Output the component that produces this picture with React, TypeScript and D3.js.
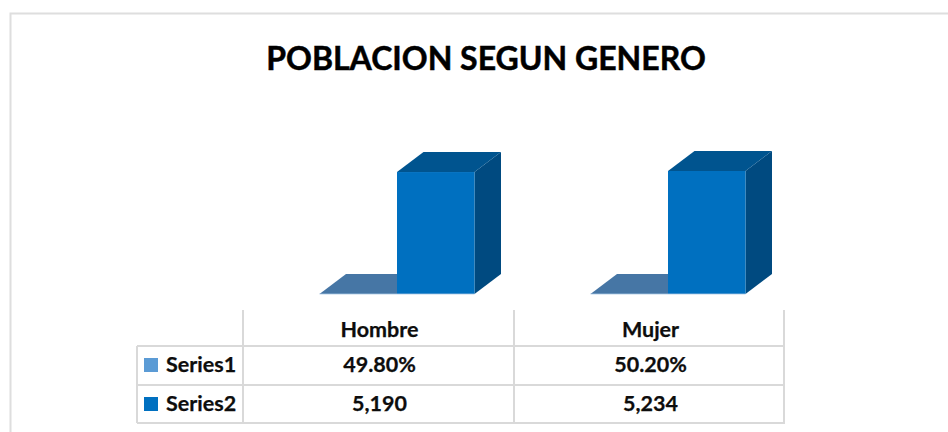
import React from "react";
import * as d3 from "d3";

const categories = ["Hombre", "Mujer"];
const seriesNames = ["Series1", "Series2"];
const series1Values = [0.498, 0.502];
const series2Values = [5190, 5234];
const series1Labels = ["49.80%", "50.20%"];
const series2Labels = ["5,190", "5,234"];
const titleText = "POBLACION SEGUN GENERO";

const W = 948, H = 432;
const FONT = "Lato, Carlito, Calibri, sans-serif";
const tableLeft = 137, colLeft = 243, colRight = 785, tableRight = 784;
const rowYs = [346, 385, 423];
const tableTop = 310;
const depthX = 26.5, depthY = 20;

const x = d3.scaleBand<string>().domain(categories).range([colLeft, colRight]).padding(0);
const yScale = d3.scaleLinear().domain([0, 6000]).range([294, 153]);
const barW = 77.5;
const groupOffset = 18.5;

function Bar3D({ x0, value, front, top, side }: { x0: number; value: number; front: string; top: string; side: string }) {
  const y0 = yScale(0);
  const y1 = yScale(value);
  const x1 = x0 + barW;
  const poly = (pts: number[][]) => pts.map((p) => p.join(",")).join(" ");
  return (
    <g>
      <polygon points={poly([[x1, y1], [x1 + depthX, y1 - depthY], [x1 + depthX, y0 - depthY], [x1, y0]])} fill={side} />
      <polygon points={poly([[x0, y1], [x0 + depthX, y1 - depthY], [x1 + depthX, y1 - depthY], [x1, y1]])} fill={top} />
      <rect x={x0} y={y1} width={barW} height={y0 - y1} fill={front} />
      <line x1={x0} x2={x1} y1={y0} y2={y0} stroke="#a9c8e4" strokeWidth={0.8} />
    </g>
  );
}

export default function App() {
  const lineColor = "#d9d9d9";
  const colCenter = (c: string) => (x(c) as number) + x.bandwidth() / 2;
  const rows = [series1Labels, series2Labels];
  const keyColors = ["#5b9bd5", "#0070c0"];
  return (
    <svg width={W} height={H} viewBox={`0 0 ${W} ${H}`} style={{ position: "fixed", left: 0, top: 0, background: "#fff" }}>
      <path d={`M10.5,${H} V13.5 H${W}`} fill="none" stroke="#dedede" strokeWidth={2} />
      <text x={486} y={70} textAnchor="middle" fontFamily={FONT} fontWeight={700} fontSize={32} fill="#000" stroke="#000" strokeWidth={0.5}>{titleText}</text>

      {categories.map((c, i) => {
        const cx = colCenter(c) + groupOffset;
        return (
          <g key={c}>
            <Bar3D x0={cx - barW} value={series1Values[i]} front="#4676a5" top="#4676a5" side="#4676a5" />
            <Bar3D x0={cx} value={series2Values[i]} front="#0070c0" top="#00548f" side="#004a80" />
          </g>
        );
      })}

      <g stroke={lineColor} strokeWidth={2} fill="none">
        {rowYs.map((y) => (
          <line key={y} x1={tableLeft} x2={tableRight + 1} y1={y} y2={y} />
        ))}
        <line x1={tableLeft} x2={tableLeft} y1={rowYs[0]} y2={rowYs[2]} />
        <line x1={colLeft} x2={colLeft} y1={tableTop} y2={rowYs[2]} />
        <line x1={colLeft + x.bandwidth()} x2={colLeft + x.bandwidth()} y1={tableTop} y2={rowYs[2]} />
        <line x1={tableRight} x2={tableRight} y1={tableTop} y2={rowYs[2]} />
      </g>

      <g fontFamily={FONT} fontWeight={700} fontSize={21.5} fill="#0d0d0d" stroke="#0d0d0d" strokeWidth={0.25}>
        {categories.map((c) => (
          <text key={c} x={colCenter(c) + 1} y={337} textAnchor="middle">{c}</text>
        ))}
        {rows.map((row, r) => (
          <g key={r}>
            <rect x={144} y={rowYs[r] + 12} width={14} height={14} fill={keyColors[r]} stroke="none" />
            <text x={166} y={rowYs[r] + 26}>{seriesNames[r]}</text>
            {row.map((t, i) => (
              <text key={i} x={colCenter(categories[i]) + 1} y={rowYs[r] + 26} textAnchor="middle">{t}</text>
            ))}
          </g>
        ))}
      </g>
    </svg>
  );
}
